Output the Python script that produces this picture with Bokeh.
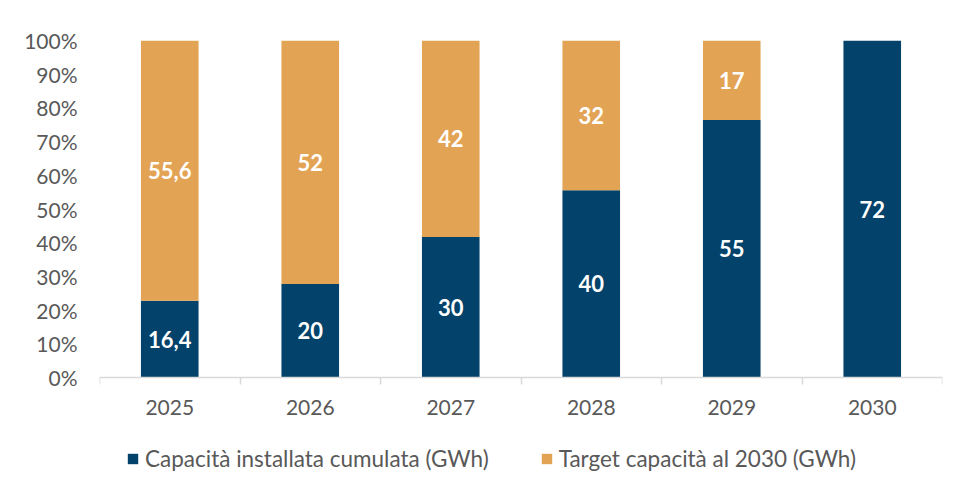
from bokeh.plotting import figure
from bokeh.models import (FixedTicker, Range1d, Legend, LegendItem, ColumnDataSource,
                          NumeralTickFormatter)
from bokeh.core.properties import value
from bokeh.embed import file_html
from bokeh.resources import INLINE

years = ["2025", "2026", "2027", "2028", "2029", "2030"]
installed = [16.4, 20, 30, 40, 55, 72]
target = [55.6, 52, 42, 32, 17, 0]
installed_labels = ["16,4", "20", "30", "40", "55", "72"]
target_labels = ["55,6", "52", "42", "32", "17", ""]
y_ticks = [0, 0.1, 0.2, 0.3, 0.4, 0.5, 0.6, 0.7, 0.8, 0.9, 1.0]

BLUE = "#03426A"
ORANGE = "#E3A354"
GRAY_TXT = "#595959"
FONT = "Lato"

xs = list(range(1, len(years) + 1))
totals = [a + b for a, b in zip(installed, target)]
inst_pct = [a / t for a, t in zip(installed, totals)]
targ_pct = [b / t for b, t in zip(target, totals)]

src = ColumnDataSource(dict(
    x=xs, inst=inst_pct, targ=targ_pct,
    inst_mid=[v / 2 for v in inst_pct],
    targ_mid=[a + b / 2 for a, b in zip(inst_pct, targ_pct)],
    inst_lab=installed_labels, targ_lab=target_labels,
))

p = figure(width=955, height=484, output_backend="svg", toolbar_location=None,
           x_range=Range1d(0.5, len(years) + 0.5), y_range=Range1d(-0.3175, 1),
           min_border_left=99, min_border_right=13, min_border_top=40, min_border_bottom=0)
p.outline_line_color = None
p.grid.grid_line_color = None

rs = p.vbar_stack(["inst", "targ"], x="x", width=0.41, color=[BLUE, ORANGE],
                  line_color=None, source=src)

p.text(x="x", y="inst_mid", text="inst_lab", source=src, text_align="center",
       text_baseline="middle", text_color="white", text_font=value(FONT),
       text_font_style="bold", text_font_size="22px")
p.text(x="x", y="targ_mid", text="targ_lab", source=src, text_align="center",
       text_baseline="middle", text_color="white", text_font=value(FONT),
       text_font_style="bold", text_font_size="22px")

# y axis
ya = p.yaxis[0]
ya.ticker = FixedTicker(ticks=y_ticks)
ya.formatter = NumeralTickFormatter(format="0%")
ya.axis_line_color = None
ya.major_tick_line_color = None
ya.minor_tick_line_color = None
ya.major_tick_out = 0
ya.major_label_standoff = 22
ya.major_label_text_font = FONT
ya.major_label_text_font_size = "21px"
ya.major_label_text_color = GRAY_TXT

# x axis, drawn at y = 0 inside the frame
xa = p.xaxis[0]
xa.fixed_location = 0
xa.ticker = FixedTicker(ticks=xs, minor_ticks=[x - 0.5 for x in xs] + [xs[-1] + 0.5])
xa.major_label_overrides = {x: y for x, y in zip(xs, years)}
xa.axis_line_color = "#D9D9D9"
xa.axis_line_width = 1.5
xa.major_tick_line_color = None
xa.major_tick_out = 0
xa.minor_tick_line_color = "#D9D9D9"
xa.minor_tick_line_width = 1.5
xa.minor_tick_out = 7
xa.minor_tick_in = 0
xa.major_label_standoff = 15
xa.major_label_text_font = FONT
xa.major_label_text_font_size = "21px"
xa.major_label_text_color = GRAY_TXT

legend = Legend(items=[
    LegendItem(label="Capacità installata cumulata (GWh)", renderers=[rs[0]]),
    LegendItem(label="Target capacità al 2030 (GWh)", renderers=[rs[1]]),
], orientation="horizontal", location=(27, 12))
legend.label_text_font = FONT
legend.label_text_font_size = "22.5px"
legend.label_text_color = GRAY_TXT
legend.glyph_width = 13
legend.glyph_height = 13
legend.label_standoff = 6
legend.spacing = 51
legend.padding = 0
legend.margin = 0
legend.border_line_color = None
legend.background_fill_alpha = 0
p.add_layout(legend, "center")

open("out.html", "w").write(file_html(p, INLINE))
